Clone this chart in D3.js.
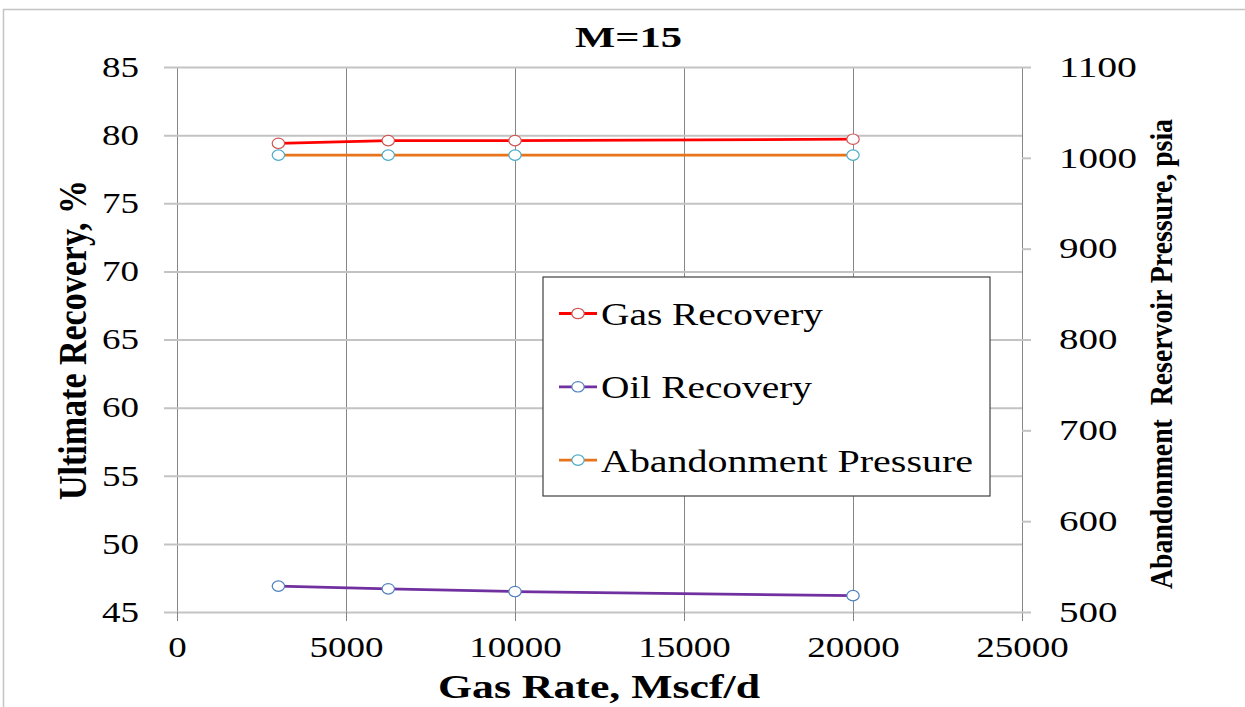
<!DOCTYPE html>
<html>
<head>
<meta charset="utf-8">
<script src="https://cdn.jsdelivr.net/npm/d3@7"></script>
<style>
  html, body { margin: 0; padding: 0; background: #fff; }
  svg { display: block; }
  text { font-family: "Liberation Serif", "Times New Roman", serif; fill: #000; }
</style>
</head>
<body>
<svg id="chart" width="1245" height="707"></svg>
<script>
// Gas rate (Mscf/d) for each run
const gasRate = [3000, 6250, 10000, 20000];
// Ultimate recoveries, %
const gasRecovery = [79.4, 79.6, 79.6, 79.7];
const oilRecovery = [46.9, 46.7, 46.5, 46.2];
// Abandonment reservoir pressure, psia (right axis)
const abandonmentPressure = [1003, 1003, 1003, 1003];

const xTicks = [0, 5000, 10000, 15000, 20000, 25000];
const yLeftTicks = [45, 50, 55, 60, 65, 70, 75, 80, 85];
const yRightTicks = [500, 600, 700, 800, 900, 1000, 1100];
const seriesNames = ["Gas Recovery", "Oil Recovery", "Abandonment Pressure"];

const svg = d3.select("#chart");
const plot = { left: 177, top: 67, width: 845, height: 545 };

const x = d3.scaleLinear().domain([0, 25000]).range([plot.left, plot.left + plot.width]);
const yL = d3.scaleLinear().domain([45, 85]).range([plot.top + plot.height, plot.top]);
const yR = d3.scaleLinear().domain([500, 1100]).range([plot.top + plot.height, plot.top]);
const plain = d3.format("d");

// outer chart frame
svg.append("rect")
  .attr("x", 3.5).attr("y", 9.5).attr("width", 1400).attr("height", 900)
  .attr("fill", "none").attr("stroke", "#c4c4c4").attr("stroke-width", 1.5);

const digitW = 18.5;
function stretch(sel, perChar) {
  sel.each(function() {
    const t = d3.select(this);
    t.attr("textLength", t.text().length * perChar).attr("lengthAdjust", "spacingAndGlyphs");
  });
}

// vertical grid lines (incl. left and right axis lines)
svg.append("g")
  .attr("transform", `translate(0,${plot.top})`)
  .call(d3.axisBottom(x).tickValues(xTicks).tickSize(plot.height).tickFormat(""))
  .call(g => g.select(".domain").remove())
  .call(g => g.selectAll(".tick line").attr("stroke", "#868686").attr("stroke-width", 1));

// horizontal grid lines, extended left as tick marks
svg.append("g")
  .attr("transform", `translate(${plot.left - 13},0)`)
  .call(d3.axisLeft(yL).tickValues(yLeftTicks).tickSize(-(plot.width + 13)).tickFormat(""))
  .call(g => g.select(".domain").remove())
  .call(g => g.selectAll(".tick line").attr("stroke", "#c3c3c3").attr("stroke-width", 2));

// bottom axis: tick marks below and labels
svg.append("g")
  .attr("transform", `translate(0,${plot.top + plot.height})`)
  .call(d3.axisBottom(x).tickValues(xTicks).tickSize(9).tickPadding(15).tickFormat(plain))
  .call(g => g.select(".domain").remove())
  .call(g => g.selectAll(".tick line").attr("stroke", "#868686"))
  .call(g => g.selectAll(".tick text").attr("font-size", 29).call(stretch, digitW));

// left axis labels
svg.append("g")
  .attr("transform", `translate(${plot.left},0)`)
  .call(d3.axisLeft(yL).tickValues(yLeftTicks).tickSize(0).tickPadding(38).tickFormat(plain))
  .call(g => g.select(".domain").remove())
  .call(g => g.selectAll(".tick text").attr("font-size", 29).call(stretch, digitW));

// right axis: ticks and labels
svg.append("g")
  .attr("transform", `translate(${plot.left + plot.width},0)`)
  .call(d3.axisRight(yR).tickValues(yRightTicks).tickSize(9).tickPadding(28).tickFormat(plain))
  .call(g => g.select(".domain").remove())
  .call(g => g.selectAll(".tick line").attr("stroke", "#c3c3c3").attr("stroke-width", 2))
  .call(g => g.selectAll(".tick text").attr("font-size", 29).call(stretch, 19.5));

// series
const series = [
  { name: seriesNames[0], values: gasRecovery, y: yL, line: "#ff0000", marker: "#d05555", len: 222 },
  { name: seriesNames[1], values: oilRecovery, y: yL, line: "#7030a0", marker: "#4f81bd", len: 211 },
  { name: seriesNames[2], values: abandonmentPressure, y: yR, line: "#e8731a", marker: "#4bacc6", len: 372 }
];

series.forEach(s => {
  const pts = gasRate.map((g, i) => [g, s.values[i]]);
  const line = d3.line().x(d => x(d[0])).y(d => s.y(d[1]));
  svg.append("path")
    .datum(pts)
    .attr("d", line)
    .attr("fill", "none")
    .attr("stroke", s.line)
    .attr("stroke-width", 2.8)
    .attr("stroke-linejoin", "round");
  svg.append("g").selectAll("ellipse")
    .data(pts).join("ellipse")
    .attr("cx", d => x(d[0])).attr("cy", d => s.y(d[1]))
    .attr("rx", 6.2).attr("ry", 5.2)
    .attr("fill", "#fff").attr("stroke", s.marker).attr("stroke-width", 1.2);
});

// legend
const lg = svg.append("g");
lg.append("rect")
  .attr("x", 543).attr("y", 277).attr("width", 447).attr("height", 219)
  .attr("fill", "#fff").attr("stroke", "#404040").attr("stroke-width", 1.2);
series.forEach((s, i) => {
  const cy = 313.5 + i * 73.3;
  lg.append("line")
    .attr("x1", 559).attr("x2", 597).attr("y1", cy).attr("y2", cy)
    .attr("stroke", s.line).attr("stroke-width", 2.8);
  lg.append("ellipse")
    .attr("cx", 578).attr("cy", cy).attr("rx", 6.2).attr("ry", 5.2)
    .attr("fill", "#fff").attr("stroke", s.marker).attr("stroke-width", 1.2);
  lg.append("text")
    .attr("x", 601).attr("y", cy + 11.5)
    .attr("font-size", 32)
    .attr("textLength", s.len).attr("lengthAdjust", "spacingAndGlyphs")
    .text(s.name);
});

// titles
svg.append("text")
  .attr("x", 628.5).attr("y", 47)
  .attr("text-anchor", "middle").attr("font-weight", "bold").attr("font-size", 29)
  .attr("textLength", 107).attr("lengthAdjust", "spacingAndGlyphs")
  .text("M=15");

svg.append("text")
  .attr("x", 599).attr("y", 698)
  .attr("text-anchor", "middle").attr("font-weight", "bold").attr("font-size", 33)
  .attr("textLength", 322).attr("lengthAdjust", "spacingAndGlyphs")
  .text("Gas Rate, Mscf/d");

svg.append("text")
  .attr("transform", "translate(86,340) rotate(-90)")
  .attr("text-anchor", "middle").attr("font-weight", "bold").attr("font-size", 40)
  .attr("textLength", 320).attr("lengthAdjust", "spacingAndGlyphs")
  .text("Ultimate Recovery, %");

svg.append("text")
  .attr("transform", "translate(1172,354) rotate(-90)")
  .attr("text-anchor", "middle").attr("font-weight", "bold").attr("font-size", 32)
  .attr("textLength", 470).attr("lengthAdjust", "spacingAndGlyphs")
  .style("white-space", "pre")
  .text("Abandonment  Reservoir Pressure, psia");
</script>
</body>
</html>
